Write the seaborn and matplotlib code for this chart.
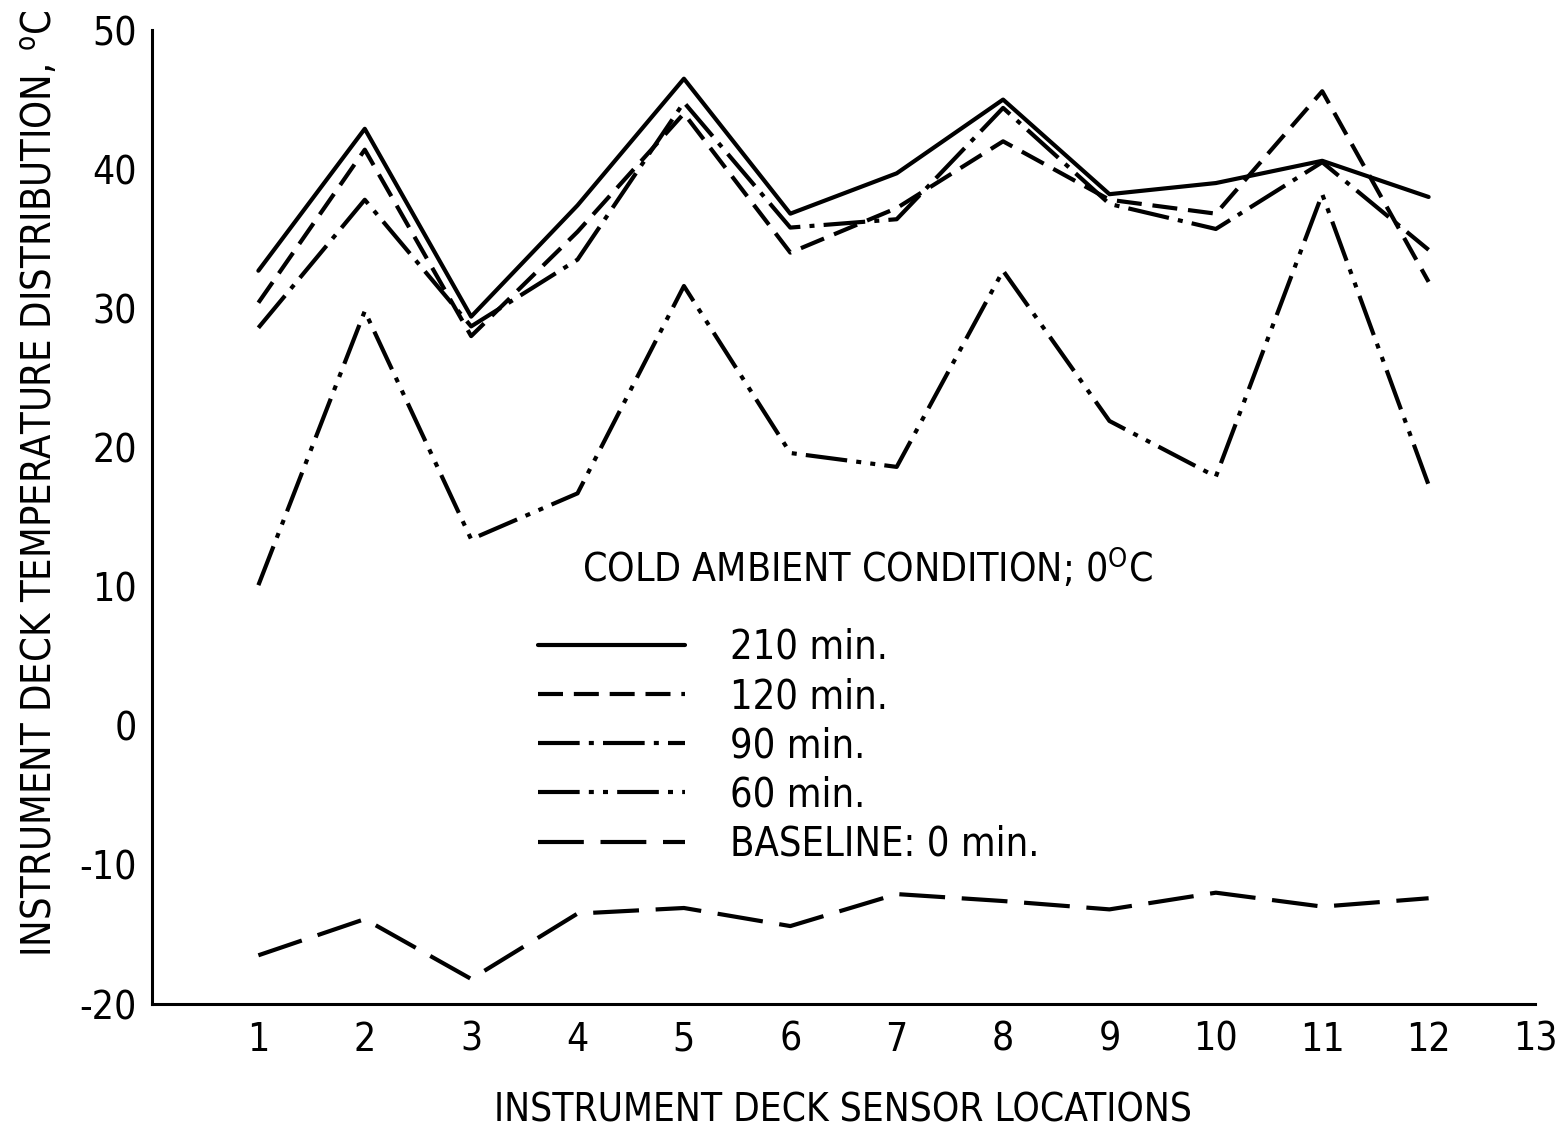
import matplotlib
matplotlib.use("Agg")
import matplotlib.pyplot as plt
from matplotlib import font_manager as fm
import pandas as pd
import seaborn as sns

# Sensor locations and temperatures (deg C) at each elapsed time
sensors = list(range(1, 13))
t210 = [32.7, 42.9, 29.4, 37.4, 46.5, 36.8, 39.7, 45.0, 38.2, 39.0, 40.6, 38.0]
t120 = [30.4, 41.4, 28.0, 35.5, 44.0, 34.0, 37.2, 42.0, 37.8, 36.8, 45.6, 31.9]
t90 = [28.6, 37.8, 28.7, 33.5, 44.8, 35.8, 36.4, 44.4, 37.5, 35.7, 40.5, 34.2]
t60 = [10.1, 29.8, 13.4, 16.7, 31.6, 19.6, 18.6, 32.7, 21.9, 17.9, 38.2, 17.3]
t0 = [-16.5, -13.9, -18.2, -13.5, -13.1, -14.4, -12.1, -12.6, -13.2, -12.0, -13.0, -12.4]

series_labels = ["210 min.", "120 min.", "90 min.", "60 min.", "BASELINE: 0 min."]
series_values = [t210, t120, t90, t60, t0]

x_ticks = list(range(1, 14))
y_ticks = [-20, -10, 0, 10, 20, 30, 40, 50]

sns.set_theme(style="white")

# Pick a narrow sans face if one is installed
preferred = ["liberationsansnarrow-regular", "dejavusanscondensed.ttf", "robotocondensed-regular",
             "opensans_condensed-regular", "opensanscondensed-regular", "notosanscondensed-regular",
             "roboto_condensed-regular"]
chosen = None
entries = fm.fontManager.ttflist
for key in preferred:
    for f in entries:
        if key in f.fname.lower().replace(" ", ""):
            chosen = f
            break
    if chosen is not None:
        break
if chosen is None:
    for f in entries:
        n = f.fname.lower()
        if ("condensed" in n or "narrow" in n) and f.style == "normal" and "bold" not in n \
                and "light" not in n and "thin" not in n and "medium" not in n and "black" not in n:
            chosen = f
            break

if chosen is not None:
    base_font = chosen.name
    base_stretch = chosen.stretch
else:
    base_font = "DejaVu Sans"
    base_stretch = "normal"

plt.rcParams["font.family"] = [base_font, "DejaVu Sans"]
plt.rcParams["font.stretch"] = base_stretch
plt.rcParams["mathtext.fontset"] = "custom"
plt.rcParams["mathtext.rm"] = base_font
plt.rcParams["mathtext.it"] = base_font
for key in ["text.color", "axes.labelcolor", "xtick.color", "ytick.color"]:
    plt.rcParams[key] = "black"

frames = []
for lab, vals in zip(series_labels, series_values):
    frames.append(pd.DataFrame({"sensor": sensors, "temp": vals, "time": lab}))
df = pd.concat(frames, ignore_index=True)

dash_map = {
    "210 min.": "",
    "120 min.": (6, 2.6),
    "90 min.": (10, 2.2, 1.2, 2.2),
    "60 min.": (10, 2.2, 1.2, 2.2, 1.2, 2.2),
    "BASELINE: 0 min.": (11, 4),
}

fig = plt.figure(figsize=(15.6, 11.29), dpi=100)
ax = fig.add_axes([152 / 1560, 1 - 1004 / 1129, (1535 - 152) / 1560, (1004 - 30) / 1129])

sns.lineplot(data=df, x="sensor", y="temp", style="time", style_order=series_labels,
             dashes=dash_map, color="black", linewidth=3.0, ax=ax, legend=True)

ax.set_xlim(0, 13)
ax.set_ylim(-20, 50)
ax.set_xticks(x_ticks)
ax.set_yticks(y_ticks)
ax.set_xticklabels([str(v) for v in x_ticks])
ax.set_yticklabels([str(v) for v in y_ticks])

for side in ["top", "right"]:
    ax.spines[side].set_visible(False)
for side in ["left", "bottom"]:
    ax.spines[side].set_color("black")
    ax.spines[side].set_linewidth(2.2)

ax.tick_params(axis="both", direction="in", length=17, width=2.0, color="black",
               labelsize=28, labelcolor="black")
ax.tick_params(axis="y", pad=11)
ax.tick_params(axis="x", pad=12)

ax.set_xlabel("INSTRUMENT DECK SENSOR LOCATIONS", fontsize=27.8, labelpad=24)
ax.set_ylabel(r"INSTRUMENT DECK TEMPERATURE DISTRIBUTION, $^{\mathrm{o}}$C", fontsize=28.5)
ax.yaxis.set_label_coords(-0.066, 0.535)
ax.grid(False)

handles, labels = ax.get_legend_handles_labels()
ax.legend(handles, labels, loc="upper left", bbox_to_anchor=(538 / 1560, 1 - 628 / 1129),
          bbox_transform=fig.transFigure, frameon=False, fontsize=28.5,
          handlelength=3.71, handletextpad=1.14, labelspacing=0.23,
          borderpad=0, borderaxespad=0)

ax.text(582 / 1560, 1 - 568 / 1129, r"COLD AMBIENT CONDITION; 0$^{\mathrm{O}}$C",
        transform=fig.transFigure, fontsize=28.1, ha="left", va="center")

fig.savefig("out.png", dpi=100, facecolor="white")
